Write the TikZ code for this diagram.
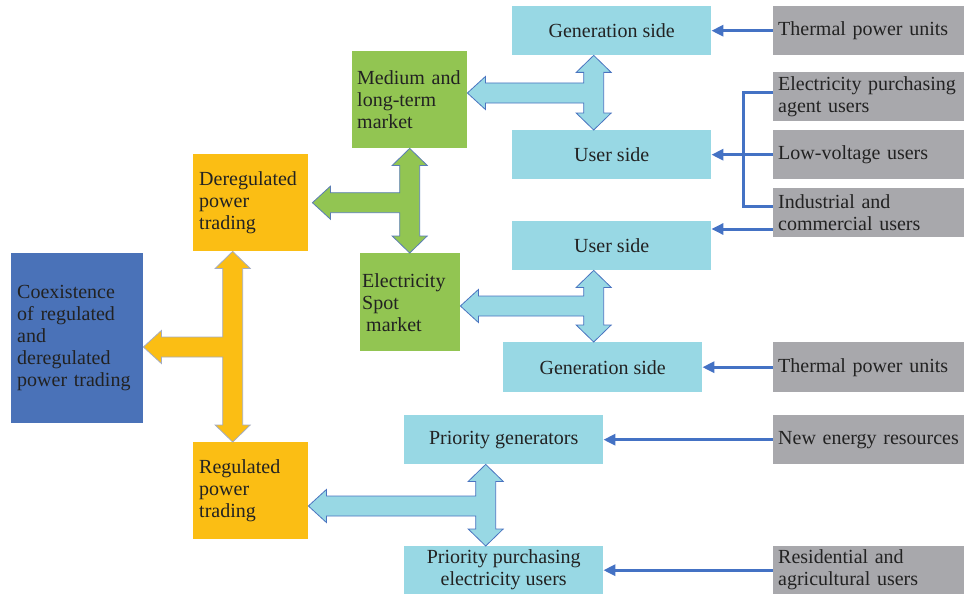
\documentclass[tikz,border=0pt]{standalone}
\usepackage{fontspec}
\setmainfont{Liberation Serif}
\usetikzlibrary{calc,arrows.meta}

\definecolor{coexblue}{HTML}{4A72B8}
\definecolor{tradeyellow}{HTML}{FBBE14}
\definecolor{marketgreen}{HTML}{92C552}
\definecolor{sidecyan}{HTML}{98D8E4}
\definecolor{sourcegray}{HTML}{A8A8AC}
\definecolor{linkblue}{HTML}{4472C4}
\definecolor{inktext}{HTML}{222222}
\definecolor{yellowedge}{HTML}{A4ACC2}
\definecolor{greenedge}{HTML}{5A7DB5}
\definecolor{cyanedge}{HTML}{4A74C0}

\tikzset{
  box/.style={anchor=north west, inner ysep=0pt, inner xsep=6pt, align=left,
    text=inktext, font=\fontsize{20}{22}\selectfont},
  coexbox/.style={box, fill=coexblue, text width=120pt, minimum height=170pt},
  tradebox/.style={box, fill=tradeyellow, text width=103pt, minimum height=97pt},
  marketbox/.style={box, fill=marketgreen},
  sidebox/.style={box, fill=sidecyan, align=center, inner xsep=0pt,
    minimum width=199pt, minimum height=49pt},
  sourcebox/.style={box, fill=sourcegray, inner xsep=5pt, text width=182pt,
    minimum height=49pt},
  link/.style={draw=linkblue, line width=3pt},
  linkarrow/.style={link, -{Triangle[length=12pt,width=11pt]}},
  yellowT/.style={fill=tradeyellow, draw=yellowedge, line width=0.8pt},
  greenT/.style={fill=marketgreen, draw=greenedge, line width=0.8pt},
  cyanT/.style={fill=sidecyan, draw=cyanedge, line width=0.8pt}
}

% #1 style, #2 upper tip, #3 lower tip, #4 side tip
\newcommand{\tarrow}[4]{%
  \filldraw[#1] let \p1=(#2), \p2=(#3), \p3=(#4) in
    (\x1,\y1) -- (\x1+17.5pt,\y1-17pt) -- (\x1+10pt,\y1-17pt)
    -- (\x1+10pt,\y2+17pt) -- (\x1+17.5pt,\y2+17pt) -- (\x1,\y2)
    -- (\x1-17.5pt,\y2+17pt) -- (\x1-10pt,\y2+17pt)
    -- (\x1-10pt,\y3-10pt) -- (\x3+18pt,\y3-10pt) -- (\x3+18pt,\y3-16.5pt)
    -- (\x3,\y3) -- (\x3+18pt,\y3+16.5pt) -- (\x3+18pt,\y3+10pt)
    -- (\x1-10pt,\y3+10pt) -- (\x1-10pt,\y1-17pt) -- (\x1-17.5pt,\y1-17pt)
    -- cycle;}

\begin{document}
\begin{tikzpicture}[x=1pt, y=-1pt]
  \useasboundingbox (0,0) rectangle (964,594);

  \node[coexbox] (coex) at (11,253) {Coexistence\\of regulated\\and\\deregulated\\power trading};
  \node[tradebox] (dereg) at (193,154) {Deregulated\\power\\trading};
  \node[tradebox] (reg) at (193,442) {Regulated\\power\\trading};

  \node[marketbox, inner xsep=5pt, text width=105pt, minimum height=97pt] (medium) at (352,51) {Medium and\\long-term\\market};
  \node[marketbox, inner xsep=2pt, text width=96pt, minimum height=98pt] (spot) at (360,253) {Electricity\\Spot\\\hspace*{4pt}market};

  \node[sidebox] (gen1) at (512,6) {Generation side};
  \node[sidebox] (user1) at (512,130) {User side};
  \node[sidebox] (user2) at (512,221) {User side};
  \node[sidebox, minimum height=50pt] (gen2) at (503,342) {Generation side};
  \node[sidebox] (pgen) at (404,415) {Priority generators};
  \node[sidebox, minimum height=48pt] (ppur) at (404,546) {Priority purchasing\\electricity users};

  \node[sourcebox] (therm1) at (773,6) {Thermal power units};
  \node[sourcebox] (agent) at (773,72) {Electricity purchasing\\agent users};
  \node[sourcebox] (lowv) at (773,130) {Low-voltage users};
  \node[sourcebox] (indus) at (773,188) {Industrial and\\commercial users};
  \node[sourcebox, minimum height=50pt] (therm2) at (773,342) {Thermal power units};
  \node[sourcebox] (newen) at (773,415) {New energy resources};
  \node[sourcebox, minimum height=48pt] (resid) at (773,546) {Residential and\\agricultural users};

  \tarrow{yellowT}{[xshift=-18pt]dereg.south}{[xshift=-18pt]reg.north}{coex.east |- 0,347}
  \tarrow{greenT}{medium.south}{spot.north}{[xshift=4pt]dereg.east}
  \tarrow{cyanT}{[xshift=-18pt]gen1.south}{[xshift=-18pt]user1.north}{medium.east |- 0,93}
  \tarrow{cyanT}{[xshift=-18pt]user2.south}{[xshift=-9pt]gen2.north}{spot.east |- 0,306}
  \tarrow{cyanT}{[xshift=-18pt]pgen.south}{[xshift=-18pt]ppur.north}{reg.east |- 0,506}

  \draw[linkarrow] (therm1.west) -- (gen1.east);
  \draw[link] ([yshift=4pt]agent.west) -| ([xshift=-30pt,yshift=6pt]indus.west) -- ([yshift=6pt]indus.west);
  \draw[linkarrow] (lowv.west) -- (user1.east);
  \draw[linkarrow] (indus.west |- 0,229) -- (user2.east |- 0,229);
  \draw[linkarrow] (therm2.west) -- (gen2.east);
  \draw[linkarrow] (newen.west) -- (pgen.east);
  \draw[linkarrow] (resid.west) -- (ppur.east);
\end{tikzpicture}
\end{document}
